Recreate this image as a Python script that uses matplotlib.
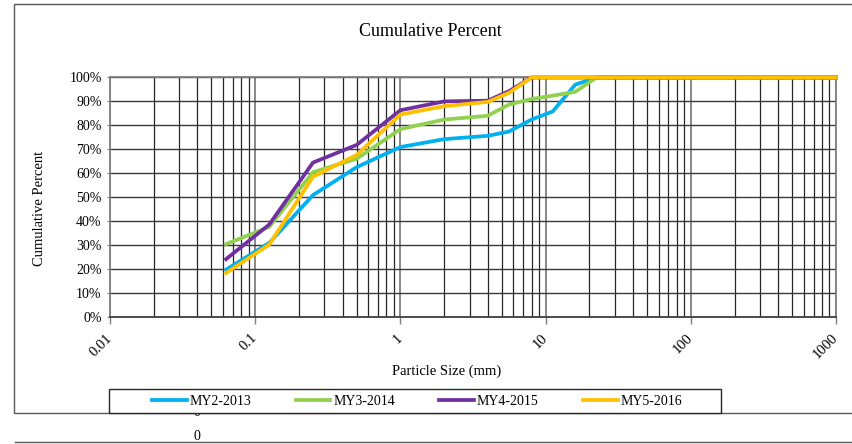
import matplotlib
matplotlib.use("Agg")
import matplotlib.pyplot as plt
from matplotlib.patches import Rectangle
from matplotlib.lines import Line2D
from matplotlib.ticker import FixedLocator, FixedFormatter, NullFormatter, LogLocator

plt.rcParams['font.family'] = ['Liberation Serif', 'DejaVu Serif']

# ---- data ----
sizes = [0.063, 0.125, 0.25, 0.5, 1, 2, 4, 5.6, 8, 11.2, 16, 22.4, 31.5, 63, 125, 250, 500, 1000]
my2_2013 = [19.6, 30.8, 50.8, 62.5, 70.9, 74.2, 75.6, 77.4, 82.4, 85.8, 97.0, 100, 100, 100, 100, 100, 100, 100]
my3_2014 = [30.3, 37.5, 60.4, 66.0, 78.4, 82.4, 84.0, 88.7, 91.0, 92.4, 94.0, 100, 100, 100, 100, 100, 100, 100]
my4_2015 = [24.0, 38.5, 64.4, 71.8, 86.3, 90.0, 90.3, 94.3, 100, 100, 100, 100, 100, 100, 100, 100, 100, 100]
my5_2016 = [18.2, 30.1, 58.5, 67.6, 84.5, 88.0, 89.8, 93.6, 100, 100, 100, 100, 100, 100, 100, 100, 100, 100]
series_names = ["MY2-2013", "MY3-2014", "MY4-2015", "MY5-2016"]
series_colors = ["#00B0F0", "#92D050", "#7030A0", "#FFC000"]
x_ticks = [0.01, 0.1, 1, 10, 100, 1000]
x_tick_labels = ["0.01", "0.1", "1", "10", "100", "1000"]
y_ticks = [0, 10, 20, 30, 40, 50, 60, 70, 80, 90, 100]
y_tick_labels = ["0%", "10%", "20%", "30%", "40%", "50%", "60%", "70%", "80%", "90%", "100%"]

W, H = 853, 444
fig = plt.figure(figsize=(W / 100, H / 100), dpi=100)

def fx(px):
    return px / W

def fy(py):
    return 1 - py / H

# stray "0" texts (document artifacts)
fig.text(fx(197), fy(419), "0", ha='center', va='bottom', fontsize=10, zorder=-3)
fig.text(fx(197), fy(443), "0", ha='center', va='bottom', fontsize=10, zorder=-3)
fig.add_artist(Line2D([fx(15), 1.0], [fy(442), fy(442)], color='#595959', lw=1.0, zorder=-2))

# chart frame
fig.add_artist(Rectangle((fx(14), fy(413)), 1.0, fy(4) - fy(413), facecolor='white',
                         edgecolor='#595959', lw=1.0, zorder=-1))

ax = fig.add_axes([fx(110), fy(316.5), fx(836) - fx(110), fy(77.5) - fy(316.5)], zorder=1)
ax.set_xscale('log')
ax.set_xlim(0.01, 1000)
ax.set_ylim(0, 100)

series = [my2_2013, my3_2014, my4_2015, my5_2016]
for vals, name, c in zip(series, series_names, series_colors):
    ax.plot(sizes, vals, color=c, lw=2.7, label=name, solid_joinstyle='miter', clip_on=False, zorder=3)

ax.xaxis.set_major_locator(FixedLocator(x_ticks))
ax.xaxis.set_major_formatter(FixedFormatter(x_tick_labels))
ax.xaxis.set_minor_locator(LogLocator(base=10, subs=range(2, 10), numticks=20))
ax.xaxis.set_minor_formatter(NullFormatter())
ax.yaxis.set_major_locator(FixedLocator(y_ticks))
ax.yaxis.set_major_formatter(FixedFormatter(y_tick_labels))

ax.grid(True, which='major', axis='x', color='#7f7f7f', lw=1.3)
ax.grid(True, which='minor', axis='x', color='#262626', lw=0.9)
ax.grid(True, which='major', axis='y', color='#3a3a3a', lw=1.0)
ax.set_axisbelow(True)

ax.tick_params(axis='x', which='major', length=5, width=1, color='#7f7f7f', pad=9, labelsize=10.5)
ax.tick_params(axis='x', which='minor', length=0)
ax.tick_params(axis='y', which='major', length=2, color='#7f7f7f', pad=4, labelsize=10)
for lab in ax.get_xticklabels():
    lab.set_rotation(45)
    lab.set_ha('right')
    lab.set_va('center')
    lab.set_rotation_mode('anchor')

for s in ['left', 'top', 'right']:
    ax.spines[s].set_color('#7f7f7f')
    ax.spines[s].set_linewidth(1.3)
ax.spines['bottom'].set_color('#404040')
ax.spines['bottom'].set_linewidth(1.3)

fig.text(fx(430), fy(32), "Cumulative Percent", ha='center', va='center', fontsize=13)
fig.text(fx(40), fy(208), "Cumulative Percent", ha='center', va='center', rotation=90, fontsize=10.5)
fig.text(fx(447), fy(371), "Particle Size (mm)", ha='center', va='center', fontsize=10.5)

# legend box
fig.add_artist(Rectangle((fx(109), fy(413)), fx(721) - fx(109), fy(389) - fy(413),
                         facecolor='white', edgecolor='#262626', lw=1.0, zorder=2))
handles, labels = ax.get_legend_handles_labels()
leg = fig.legend(handles, labels, loc='center', bbox_to_anchor=(fx(417), fy(401)), ncol=4,
                 frameon=False, fontsize=10, handlelength=2.5, handletextpad=0.2,
                 columnspacing=3.2, borderpad=0.2)
leg.set_zorder(3)

fig.savefig("out.png", dpi=100)
